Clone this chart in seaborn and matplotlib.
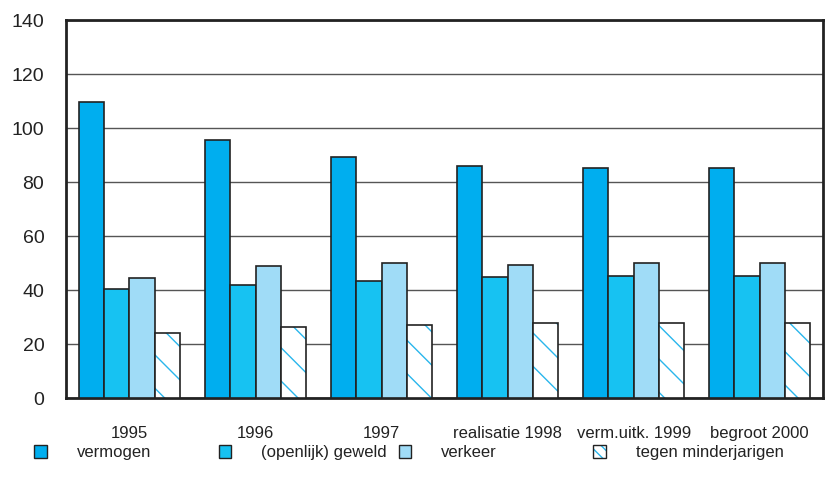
import matplotlib
matplotlib.use('Agg')
import matplotlib.pyplot as plt
from matplotlib.patches import Patch, Rectangle
from matplotlib.legend_handler import HandlerTuple
import pandas as pd
import seaborn as sns

# Data
years = ['1995', '1996', '1997', 'realisatie 1998', 'verm.uitk. 1999', 'begroot 2000']
series = ['vermogen', '(openlijk) geweld', 'verkeer', 'tegen minderjarigen']
vermogen = [109.5, 95.5, 89.3, 86.0, 85.3, 85.3]
geweld = [40.3, 41.8, 43.5, 44.8, 45.2, 45.2]
verkeer = [44.5, 48.8, 50.0, 49.2, 50.2, 50.2]
minderjarigen = [24.3, 26.2, 27.2, 27.8, 28.0, 28.0]
colors = ['#00aeef', '#17c2f2', '#a0dcf7', '#ffffff']
hatch_color = '#29b6ec'

df = pd.DataFrame({
    'jaar': years * 4,
    'serie': sum([[s] * len(years) for s in series], []),
    'waarde': vermogen + geweld + verkeer + minderjarigen,
})

sns.set_style('white')
plt.rcParams['font.family'] = ['Liberation Sans', 'DejaVu Sans']
plt.rcParams['hatch.linewidth'] = 1.0

fig = plt.figure(figsize=(8.31, 4.88), dpi=100)
ax = fig.add_axes([0.08, 0.184, 0.91, 0.775])

sns.barplot(data=df, x='jaar', y='waarde', hue='serie', hue_order=series,
            palette=colors, width=0.8, edgecolor='#222222', linewidth=1.2,
            saturation=1, legend=False, ax=ax, zorder=3)

# hatched white bars: cyan hatch, dark outline drawn on top
for bar in ax.containers[3]:
    bar.set_hatch('\\')
    bar.set_edgecolor(hatch_color)
    bar.set_linewidth(0)
    ax.add_patch(Rectangle(bar.get_xy(), bar.get_width(), bar.get_height(),
                           fill=False, edgecolor='#222222', linewidth=1.2, zorder=4))

ax.set_ylim(0, 140)
ax.set_xlim(-0.5, len(years) - 0.5)
ax.set_yticks(range(0, 141, 20))
ax.yaxis.grid(True, color='#555555', linewidth=1.0, zorder=0)
ax.set_axisbelow(True)
for s in ax.spines.values():
    s.set_color('#222222')
    s.set_linewidth(2)

ax.set_xlabel('')
ax.set_ylabel('')
ax.tick_params(axis='y', length=0, pad=16, labelsize=14, colors='#222222')
ax.set_xticks([i - 0.5 for i in range(len(years) + 1)], minor=True)
ax.tick_params(axis='x', which='minor', length=12, width=1, color='#777777', direction='out')
ax.tick_params(axis='x', which='major', length=0, pad=20, labelsize=12, colors='#222222')

# legend items placed one by one, as in the reference
legend_x = [0.041, 0.263, 0.48, 0.714]
for i, name in enumerate(series):
    if i == 3:
        h = (Patch(facecolor='white', edgecolor=hatch_color, linewidth=0, hatch='\\\\\\'),
             Patch(fill=False, edgecolor='#222222'))
    else:
        h = Patch(facecolor=colors[i], edgecolor='#222222')
    leg = fig.legend([h], [name], loc='center left', bbox_to_anchor=(legend_x[i], 0.073),
                     frameon=False, handlelength=0.75, handleheight=0.9,
                     handletextpad=1.8, borderpad=0, borderaxespad=0,
                     handler_map={tuple: HandlerTuple(ndivide=1, pad=0)},
                     prop={'size': 12})
    for t in leg.get_texts():
        t.set_color('#222222')

fig.savefig('out.png', dpi=100)
